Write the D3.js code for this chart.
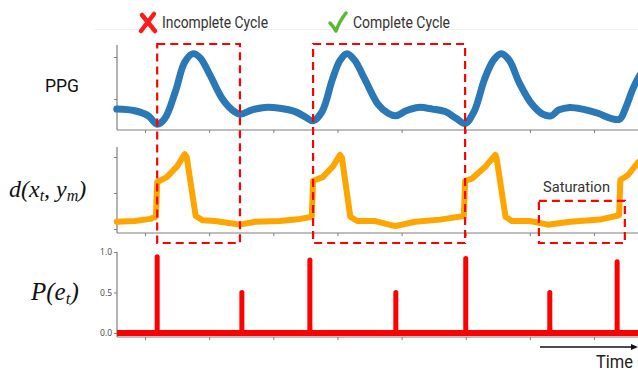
<!DOCTYPE html>
<html><head><meta charset="utf-8">
<script src="https://cdn.jsdelivr.net/npm/d3@7"></script>
<style>body{margin:0;background:#fff}svg{display:block}</style>
</head><body>
<svg id="c" width="638" height="372"></svg>
<script>
// ---- data (time in tick units, values in axis units) ----
const xTicks = [1,2,3,4,5,6,7,8];
const ppgTicks = [0.5, 1.0];
const dTicks = [0, 0.5, 1.0];
const pTicks = [0.0, 0.5, 1.0];
const pTickLabels = ["0.0","0.5","1.0"];

// PPG signal (time, value)
const ppgT = [0.56,0.84,1.05,1.19,1.31,1.47,1.62,1.75,1.86,2.01,2.20,2.36,2.48,2.67,2.87,3.10,3.34,3.49,3.62,3.76,3.92,4.04,4.15,4.27,4.43,4.63,4.79,4.91,5.07,5.26,5.48,5.68,5.85,5.99,6.13,6.29,6.43,6.55,6.68,6.83,7.03,7.20,7.33,7.45,7.62,7.82,8.06,8.26,8.40,8.49,8.61,8.72,8.80];
const ppgV = [0.38,0.36,0.30,0.20,0.27,0.58,0.94,1.04,0.99,0.79,0.51,0.37,0.32,0.37,0.40,0.39,0.35,0.29,0.24,0.35,0.73,0.96,1.04,0.96,0.73,0.44,0.33,0.30,0.36,0.40,0.38,0.35,0.27,0.21,0.35,0.73,0.96,1.04,0.96,0.70,0.44,0.32,0.30,0.37,0.40,0.38,0.33,0.27,0.26,0.39,0.63,0.79,0.86];

// distance signal d(x_t, y_m)
const dT = [0.56,0.84,1.08,1.17,1.19,1.34,1.50,1.62,1.65,1.79,1.90,2.09,2.33,2.48,2.72,3.10,3.42,3.60,3.62,3.77,3.93,4.04,4.07,4.20,4.31,4.59,4.90,5.21,5.60,5.97,5.99,6.10,6.30,6.46,6.48,6.62,6.72,7.00,7.28,7.63,8.09,8.39,8.41,8.53,8.69];
const dV = [0.10,0.11,0.14,0.17,0.65,0.72,0.87,1.04,1.00,0.18,0.12,0.11,0.08,0.06,0.10,0.11,0.14,0.17,0.67,0.72,0.87,1.03,0.99,0.17,0.11,0.11,0.04,0.10,0.13,0.18,0.67,0.70,0.86,1.03,0.99,0.17,0.11,0.11,0.06,0.10,0.13,0.19,0.68,0.75,0.93];

// event probability P(e_t)
const pT = [1.19, 2.51, 3.57, 4.91, 6.00, 7.31, 8.36];
const pV = [0.94, 0.50, 0.90, 0.50, 0.92, 0.50, 0.88];

// annotation boxes [t0, t1]
const boxes = [
  {t0:1.19, t1:2.48},
  {t0:3.62, t1:5.99}
];
const satBox = {t0:7.14, t1:8.48, v0:0.39};

// ---- scales ----
const svg = d3.select("#c");
const x = d3.scaleLinear().domain([0.5635, 8.685]).range([117, 638]);
const yPPG = d3.scaleLinear().domain([0.131, 1.143]).range([130, 45]);
const yD = d3.scaleLinear().domain([-0.056, 1.139]).range([233, 147]);
const yP = d3.scaleLinear().domain([-0.05, 1.0]).range([337, 252]);

const axisColor = "#7f7f7f";
const font = "Roboto, 'DejaVu Sans', sans-serif";

// faint separator
svg.append("line").attr("x1",95).attr("x2",638).attr("y1",29.5).attr("y2",29.5)
  .attr("stroke","#f0f0f0").attr("stroke-width",1);

function drawAxes(y, yt, labels){
  const gx = svg.append("g").attr("transform",`translate(0,${y.range()[0]})`)
    .call(d3.axisBottom(x).tickValues(xTicks).tickSize(3).tickFormat(""));
  const gy = svg.append("g").attr("transform",`translate(${x.range()[0]},0)`)
    .call(d3.axisLeft(y).tickValues(yt).tickSize(3).tickFormat((d,i)=>labels?labels[i]:""));
  [gx,gy].forEach(g=>{
    g.select(".domain").attr("stroke",axisColor).attr("stroke-width",1.2);
    g.selectAll(".tick line").attr("stroke",axisColor);
    g.selectAll("text").attr("fill","#444").attr("font-size",8.5).attr("font-family","'Open Sans', sans-serif");
  });
  gx.select(".domain").attr("d",`M${x.range()[0]},0H${x.range()[1]}`);
  gy.select(".domain").attr("d",`M0,${y.range()[0]}V${y.range()[1]}`);
  return gy;
}
drawAxes(yPPG, ppgTicks);
drawAxes(yD, dTicks);
const gyP = drawAxes(yP, pTicks, pTickLabels);
gyP.selectAll("text").attr("x",-5);

// PPG line
const ppgData = ppgT.map((t,i)=>[t,ppgV[i]]);
svg.append("path").datum(ppgData)
  .attr("d", d3.line().x(d=>x(d[0])).y(d=>yPPG(d[1])).curve(d3.curveCatmullRom.alpha(0.5)))
  .attr("fill","none").attr("stroke","#2a78b6").attr("stroke-width",7)
  .attr("stroke-linecap","round").attr("stroke-linejoin","round");

// d line
const dData = dT.map((t,i)=>[t,dV[i]]);
svg.append("path").datum(dData)
  .attr("d", d3.line().x(d=>x(d[0])).y(d=>yD(d[1])))
  .attr("fill","none").attr("stroke","#ffa500").attr("stroke-width",6)
  .attr("stroke-linecap","round").attr("stroke-linejoin","round");

// P(e_t): baseline + spikes
svg.append("line").attr("x1",x.range()[0]).attr("x2",638)
  .attr("y1",yP(0)).attr("y2",yP(0)).attr("stroke","#ff0000").attr("stroke-width",6);
svg.selectAll(".spike").data(pT.map((t,i)=>[t,pV[i]])).join("line")
  .attr("class","spike")
  .attr("x1",d=>x(d[0])).attr("x2",d=>x(d[0]))
  .attr("y1",yP(0)).attr("y2",d=>yP(d[1]))
  .attr("stroke","#ff0000").attr("stroke-width",5).attr("stroke-linecap","round");

// dashed boxes
const dash = "8,5";
boxes.forEach(b=>{
  svg.append("rect").attr("x",x(b.t0)).attr("y",44)
    .attr("width",x(b.t1)-x(b.t0)).attr("height",243-44)
    .attr("fill","none").attr("stroke","#ff0000").attr("stroke-width",2.2).attr("stroke-dasharray",dash);
});
svg.append("rect").attr("x",x(satBox.t0)).attr("y",yD(satBox.v0))
  .attr("width",x(satBox.t1)-x(satBox.t0)).attr("height",243-yD(satBox.v0))
  .attr("fill","none").attr("stroke","#ff0000").attr("stroke-width",2.2).attr("stroke-dasharray",dash);

// titles
svg.append("path").attr("d","M142,15 L155,31 M154,14 L141,31")
  .attr("stroke","#ff1a1a").attr("stroke-width",4.5).attr("stroke-linecap","round").attr("fill","none");
svg.append("text").attr("x",162).attr("y",28).attr("font-family",font).attr("font-size",16)
  .attr("fill","#333").attr("textLength",106).attr("lengthAdjust","spacingAndGlyphs").text("Incomplete Cycle");
svg.append("path").attr("d","M330,23 Q333,26 336,31 Q339,22 346,13")
  .attr("stroke","#5cb82e").attr("stroke-width",3.5).attr("stroke-linecap","round").attr("stroke-linejoin","round").attr("fill","none");
svg.append("text").attr("x",353).attr("y",28).attr("font-family",font).attr("font-size",16)
  .attr("fill","#333").attr("textLength",97).attr("lengthAdjust","spacingAndGlyphs").text("Complete Cycle");
svg.append("text").attr("x",543).attr("y",192).attr("font-family",font).attr("font-size",15)
  .attr("fill","#333").attr("textLength",67).attr("lengthAdjust","spacingAndGlyphs").text("Saturation");

// left labels
svg.append("text").attr("x",45).attr("y",92).attr("font-family",font).attr("font-size",19)
  .attr("fill","#111").attr("textLength",34).attr("lengthAdjust","spacingAndGlyphs").text("PPG");
const serif = "'Liberation Serif','DejaVu Serif',serif";
const t1 = svg.append("text").attr("x",9).attr("y",197).attr("font-family",serif)
  .attr("font-style","italic").attr("font-size",24).attr("fill","#111");
t1.append("tspan").text("d(x");
t1.append("tspan").attr("font-size",16).attr("dy",4).text("t");
t1.append("tspan").attr("dy",-4).text(", y");
t1.append("tspan").attr("font-size",16).attr("dy",4).text("m");
t1.append("tspan").attr("dy",-4).text(")");
const t2 = svg.append("text").attr("x",31).attr("y",300).attr("font-family",serif)
  .attr("font-style","italic").attr("font-size",25).attr("fill","#111");
t2.append("tspan").text("P(e");
t2.append("tspan").attr("font-size",17).attr("dy",4).text("t");
t2.append("tspan").attr("dy",-4).text(")");

// time arrow
svg.append("line").attr("x1",540).attr("x2",633).attr("y1",347).attr("y2",347)
  .attr("stroke","#111").attr("stroke-width",1.3);
svg.append("path").attr("d","M638,347 L631,344 L631,350 Z").attr("fill","#111");
svg.append("text").attr("x",633).attr("y",368).attr("text-anchor","end").attr("font-family",font)
  .attr("font-size",19).attr("fill","#222").attr("textLength",37).attr("lengthAdjust","spacingAndGlyphs").text("Time");
</script>
</body></html>
